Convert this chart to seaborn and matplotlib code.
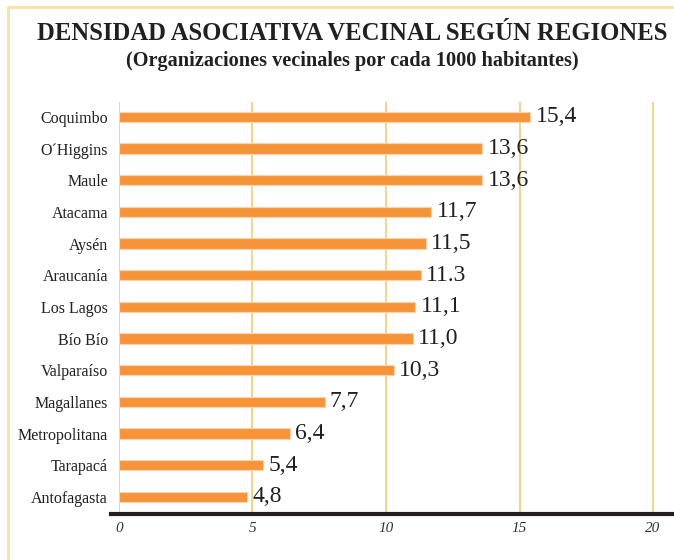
import matplotlib
matplotlib.use("Agg")
import matplotlib.pyplot as plt
import seaborn as sns
import pandas as pd
from matplotlib.lines import Line2D

regions = ["Coquimbo", "O´Higgins", "Maule", "Atacama", "Aysén", "Araucanía",
           "Los Lagos", "Bío Bío", "Valparaíso", "Magallanes", "Metropolitana",
           "Tarapacá", "Antofagasta"]
values = [15.4, 13.6, 13.6, 11.7, 11.5, 11.3, 11.1, 11.0, 10.3, 7.7, 6.4, 5.4, 4.8]
value_labels = ["15,4", "13,6", "13,6", "11,7", "11,5", "11.3", "11,1", "11,0",
                "10,3", "7,7", "6,4", "5,4", "4,8"]
xticks = [0, 5, 10, 15, 20]

title = "DENSIDAD ASOCIATIVA VECINAL SEGÚN REGIONES"
subtitle = "(Organizaciones vecinales por cada 1000 habitantes)"

sns.set_theme(style="white")
plt.rcParams["font.family"] = ["Liberation Serif", "DejaVu Serif"]

W, H = 674, 560
fig = plt.figure(figsize=(W / 100, H / 100), dpi=100)
fig.patch.set_facecolor("white")

left, right, top, bottom = 119, 674, 102, 514
ax = fig.add_axes([left / W, 1 - bottom / H, (right - left) / W, (bottom - top) / H])

df = pd.DataFrame({"region": regions, "value": values})
sns.barplot(data=df, x="value", y="region", ax=ax, color="#F7943A",
            saturation=1, width=0.33, edgecolor="#FBD3AE", linewidth=0.8,
            zorder=3)

xmax = 20 * (right - left) / (653 - left)
ax.set_xlim(0, xmax)
ax.set_ylim(len(regions) - 1 + 0.54, -0.47)

ax.set_xticks(xticks)
ax.set_xticklabels([str(t) for t in xticks], fontstyle="italic", fontsize=11,
                   color="#333333")
ax.tick_params(axis="x", length=0, pad=6)
ax.tick_params(axis="y", length=0, pad=8)
for lbl in ax.get_yticklabels():
    lbl.set_fontsize(11.5)
    lbl.set_color("#231F20")
ax.set_xlabel("")
ax.set_ylabel("")

for x in xticks:
    ax.axvline(x, color="#F2D07E", linewidth=1.3, zorder=1)

for s in ["top", "right", "left"]:
    ax.spines[s].set_visible(False)
ax.spines["bottom"].set_color("#231F20")
ax.spines["bottom"].set_linewidth(3)
ax.spines["bottom"].set_bounds(-0.3, xmax)
ax.spines["bottom"].set_zorder(4)

for i, (v, t) in enumerate(zip(values, value_labels)):
    ax.text(v + 0.2, i, t, va="center", ha="left", fontsize=17,
            color="#231F20", zorder=5)

# frame lines
fig.add_artist(Line2D([7.5 / W, 1], [1 - 6.5 / H, 1 - 6.5 / H],
                      transform=fig.transFigure, color="#F6E1A6", linewidth=2))
fig.add_artist(Line2D([7.5 / W, 7.5 / W], [1 - 6.5 / H, 0],
                      transform=fig.transFigure, color="#F6E1A6", linewidth=2))

fig.text(352 / W, 1 - 33 / H, title, ha="center", va="center",
         fontsize=17.7, fontweight="bold", color="#231F20")
fig.text(352 / W, 1 - 61 / H, subtitle, ha="center", va="center",
         fontsize=14.6, fontweight="bold", color="#231F20")

fig.savefig("out.png", dpi=100, facecolor="white")
